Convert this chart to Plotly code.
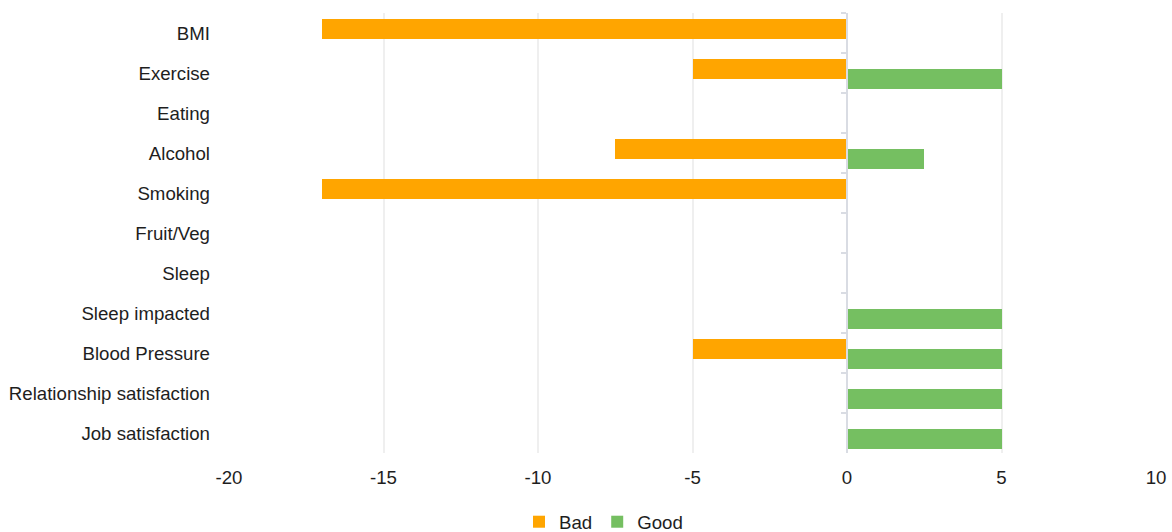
import plotly.graph_objects as go

categories = ["BMI", "Exercise", "Eating", "Alcohol", "Smoking", "Fruit/Veg", "Sleep",
              "Sleep impacted", "Blood Pressure", "Relationship satisfaction", "Job satisfaction"]
bad = [-17, -5, None, -7.5, -17, None, None, None, -5, None, None]
good = [None, 5, None, 2.5, None, None, None, 5, 5, 5, 5]
x_ticks = [-20, -15, -10, -5, 0, 5, 10]

BAD_COLOR = "#FFA500"
GOOD_COLOR = "#75BF61"
FONT = "Liberation Sans, Arial, sans-serif"
FS = 18.67
TXT = "#1E1E1E"

fig = go.Figure()
fig.add_trace(go.Bar(
    y=categories, x=bad, orientation="h", name="Bad",
    marker=dict(color=BAD_COLOR, line=dict(width=0)),
    width=0.5, offset=-0.357, yaxis="y",
))
fig.add_trace(go.Bar(
    y=categories, x=good, orientation="h", name="Good",
    marker=dict(color=GOOD_COLOR, line=dict(width=0)),
    width=0.5, offset=-0.107, yaxis="y2",
))

yr = [len(categories) - 0.5, -0.5]
fig.update_layout(
    width=1172, height=532,
    margin=dict(l=229, r=16, t=13, b=79, autoexpand=False),
    paper_bgcolor="white", plot_bgcolor="white",
    font=dict(family=FONT, size=FS, color=TXT),
    barmode="overlay",
    bargap=0,
    showlegend=True,
    legend=dict(orientation="h", xref="paper", x=0.404, xanchor="center",
                yref="paper", y=-0.157, yanchor="middle",
                font=dict(size=FS, color=TXT),
                itemwidth=30, traceorder="normal", tracegroupgap=0),
    xaxis=dict(range=[-20, 10], tickvals=x_ticks, ticktext=[str(v) for v in x_ticks],
               showgrid=True, gridcolor="#EFEFEF", gridwidth=2, automargin=False,
               zeroline=False, showline=False, ticks="",
               tickfont=dict(size=FS, color=TXT), ticklabelstandoff=11),
    yaxis=dict(type="category", categoryorder="array", categoryarray=categories,
               range=yr, showgrid=False, zeroline=False, showline=False, ticks="",
               automargin=False,
               tickfont=dict(size=FS, color=TXT), ticklabelstandoff=18),
    yaxis2=dict(type="category", categoryorder="array", categoryarray=categories,
                range=yr, overlaying="y", anchor="free", position=20/30, side="left",
                automargin=False,
                showgrid=False, zeroline=False, showline=True, linecolor="#D9DCE3",
                linewidth=2, ticks="outside", ticklen=5, tickcolor="#D9DCE3",
                tickwidth=2, tickson="boundaries", showticklabels=False),
)

fig.write_html("out.html")
